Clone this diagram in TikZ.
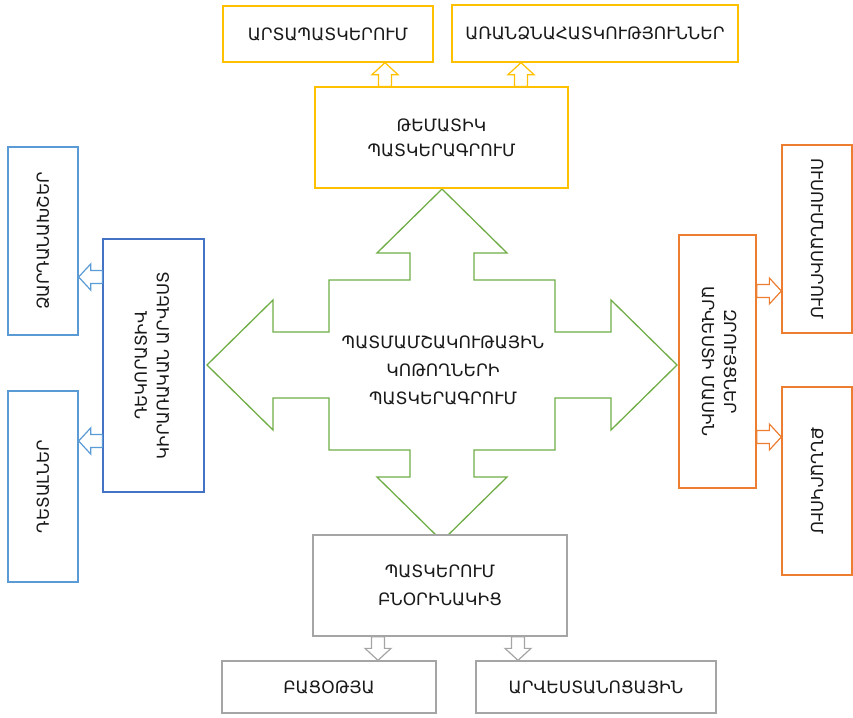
\documentclass[tikz,border=0pt]{standalone}
\usepackage{fontspec}
\usepackage{graphicx}
\setmainfont{DejaVu Sans}
\usetikzlibrary{calc}
\definecolor{cyel}{HTML}{FFC000}
\definecolor{cgrn}{HTML}{70AD47}
\definecolor{cblu}{HTML}{4472C4}
\definecolor{cbll}{HTML}{5B9BD5}
\definecolor{corg}{HTML}{ED7D31}
\definecolor{cgry}{HTML}{A5A5A5}
\newcommand\barrow[3]{%
  \coordinate (arA) at #2;
  \coordinate (arB) at #3;
  \coordinate (arH) at ($(arB)!12pt!(arA)$);
  \draw[#1] ($(arA)!6.5pt!90:(arB)$) -- ($(arH)!6.5pt!90:(arB)$) -- ($(arH)!13pt!90:(arB)$) -- (arB)
    -- ($(arH)!13pt!-90:(arB)$) -- ($(arH)!6.5pt!-90:(arB)$) -- ($(arA)!6.5pt!-90:(arB)$) -- cycle;}
\newcommand\vtxt[3]{\rotatebox[origin=c]{#1}{\begin{tabular}{@{}c@{}}#2\\#3\end{tabular}}}
\newcommand\vone[2]{\rotatebox[origin=c]{#1}{#2}}
\begin{document}
\begin{tikzpicture}[x=1pt,y=-1pt,
  bx/.style={draw, fill=white, line width=1.3pt, align=center, inner sep=2pt,
    font=\fontsize{17}{25}\selectfont, text=black!90},
  vbx/.style={bx, font=\fontsize{16.5}{22}\selectfont},
  arrbase/.style={fill=white, line width=1.2pt, line join=miter},
  gline/.style={draw=cgrn, line width=1.3pt, line join=miter, fill=white},
  lbl/.style={align=center, font=\fontsize{17}{28}\selectfont, text=black!90}]
\useasboundingbox (0,0) rectangle (853,717);

% central four-way arrow
\begin{scope}[shift={(442,365)}]
\draw[gline] (0,-176) -- (65,-112) -- (32,-112) -- (32,-85) -- (113,-85) -- (113,-33)
  -- (169,-33) -- (169,-65) -- (235,0) -- (169,65) -- (169,33) -- (113,33) -- (113,85)
  -- (32,85) -- (32,112) -- (65,112) -- (0,176) -- (-65,112) -- (-32,112) -- (-32,85)
  -- (-113,85) -- (-113,33) -- (-169,33) -- (-169,65) -- (-235,0) -- (-169,-65)
  -- (-169,-33) -- (-113,-33) -- (-113,-85) -- (-32,-85) -- (-32,-112) -- (-65,-112) -- cycle;
\end{scope}
\node[lbl] (K) at (443,370.5) {ՊԱՏՄԱՄՇԱԿՈՒԹԱՅԻՆ\\ԿՈԹՈՂՆԵՐԻ\\ՊԱՏԿԵՐԱԳՐՈՒՄ};

% top (yellow)
\node[bx, draw=cyel, minimum width=210, minimum height=56] (A) at (328,34) {ԱՐՏԱՊԱՏԿԵՐՈՒՄ};
\node[bx, draw=cyel, minimum width=286, minimum height=57] (B) at (595,33.5) {ԱՌԱՆՁՆԱՀԱՏԿՈՒԹՅՈՒՆՆԵՐ};
\node[bx, draw=cyel, minimum width=253, minimum height=101] (C) at (441.5,137.5) {ԹԵՄԱՏԻԿ\\ՊԱՏԿԵՐԱԳՐՈՒՄ};

% bottom (gray)
\node[bx, draw=cgry, minimum width=254, minimum height=101] (D) at (440,585.5) {ՊԱՏԿԵՐՈՒՄ\\[3pt]ԲՆՕՐԻՆԱԿԻՑ};
\node[bx, draw=cgry, minimum width=214, minimum height=52] (E) at (329,687) {ԲԱՑՕԹՅԱ};
\node[bx, draw=cgry, minimum width=240, minimum height=52] (F) at (596,687) {ԱՐՎԵՍՏԱՆՈՑԱՅԻՆ};

% left (blue)
\node[vbx, draw=cblu, minimum width=101, minimum height=253] (G) at (153.5,365.5) {\vtxt{90}{ԴԵԿՈՐԱՏԻՎ}{ԿԻՐԱՌԱԿԱՆ ԱՐՎԵՍՏ}};
\node[vbx, draw=cbll, minimum width=70, minimum height=188] (H1) at (43,241) {\vone{90}{ՁԱՐԴԱՆԱԽՇԵՐ}};
\node[vbx, draw=cbll, minimum width=70, minimum height=191] (H2) at (43,486.5) {\vone{90}{ԴԵՏԱԼՆԵՐ}};

% right (orange)
\node[vbx, draw=corg, minimum width=77, minimum height=253] (I) at (717.5,361.5) {\vtxt{-90}{ԶՐՈՒՅՑՆԵՐ}{ԱՐՎԵՍՏԻ ՄԱՍԻՆ}};
\node[vbx, draw=corg, minimum width=70, minimum height=188] (J1) at (817,239) {\vone{-90}{ՈՒՍՈՒՄՆԱՍԻՐՈՒՄ}};
\node[vbx, draw=corg, minimum width=70, minimum height=188] (J2) at (817,481) {\vone{-90}{ՔՆՆԱՐԿՈՒՄ}};

% arrow lines
\coordinate (ya) at (385,0); \coordinate (yb) at (521,0);
\coordinate (ga) at (378,0); \coordinate (gb) at (518,0);
\coordinate (bl1) at (0,277); \coordinate (bl2) at (0,441);
\coordinate (or1) at (0,291); \coordinate (or2) at (0,437);

\barrow{arrbase, draw=cyel}{(C.north -| ya)}{(A.south -| ya)}
\barrow{arrbase, draw=cyel}{(C.north -| yb)}{(B.south -| yb)}
\barrow{arrbase, draw=cgry}{(D.south -| ga)}{(E.north -| ga)}
\barrow{arrbase, draw=cgry}{(D.south -| gb)}{(F.north -| gb)}
\barrow{arrbase, draw=cbll}{(G.west |- bl1)}{(H1.east |- bl1)}
\barrow{arrbase, draw=cbll}{(G.west |- bl2)}{(H2.east |- bl2)}
\barrow{arrbase, draw=corg}{(I.east |- or1)}{(J1.west |- or1)}
\barrow{arrbase, draw=corg}{(I.east |- or2)}{(J2.west |- or2)}
\end{tikzpicture}
\end{document}
